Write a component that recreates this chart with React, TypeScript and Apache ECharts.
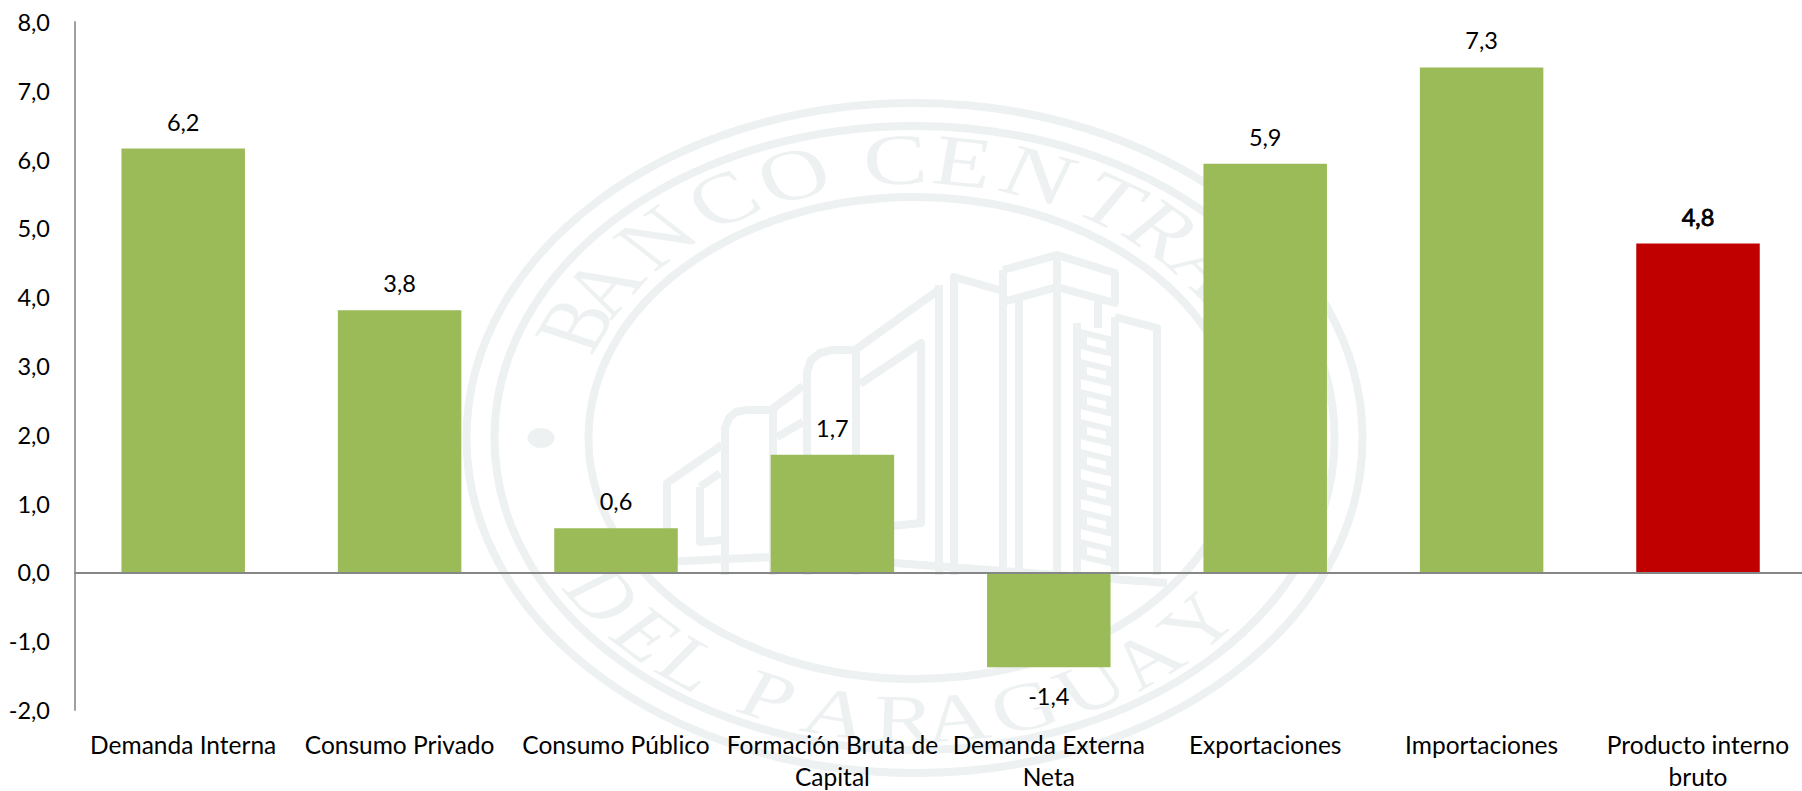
import React, { useEffect, useRef } from "react";
import * as echarts from "echarts";

const categories = [
  "Demanda Interna",
  "Consumo Privado",
  "Consumo Público",
  "Formación Bruta de\nCapital",
  "Demanda Externa\nNeta",
  "Exportaciones",
  "Importaciones",
  "Producto interno\nbruto",
];
const values = [6.16, 3.81, 0.64, 1.71, -1.38, 5.94, 7.34, 4.78];
const barColors = ["#9bbb59", "#9bbb59", "#9bbb59", "#9bbb59", "#9bbb59", "#9bbb59", "#9bbb59", "#c00000"];
const boldLabel = [false, false, false, false, false, false, false, true];

const FONT = "Lato";
const INK = "#edf1f2";
const comma = (v: number) => v.toFixed(1).replace(".", ",");

// seal watermark
const sealCenter = [914.5, 438];
const sealStretch = 1.335;
const rings = [
  [448, 335],
  [420, 312],
  [326, 241],
];
const topLetters: [string, number][] = [
  ["B", -66], ["A", -57], ["N", -44], ["C", -31], ["O", -19], ["C", -3],
  ["E", 7.5], ["N", 19.5], ["T", 32], ["R", 42], ["A", 52.5], ["L", 62],
];
const bottomLetters: [string, number][] = [
  ["D", -56], ["E", -45.5], ["L", -36.5], ["P", -23], ["A", -12], ["R", -1.6],
  ["A", 6.5], ["G", 17], ["U", 28], ["A", 38], ["Y", 49],
];
const buildingLines: number[][][] = [
  [[667, 562], [667, 483], [722, 445]],
  [[700, 487], [720, 473]],
  [[700, 487], [700, 542], [722, 540]],
  [[725, 575], [725, 428], [729, 418], [736, 412], [746, 410], [771, 410], [773, 412], [773, 575]],
  [[771, 410], [803, 386]],
  [[777, 437], [803, 422]],
  [[807, 575], [807, 372], [811, 360], [820, 353], [832, 350], [853, 350], [856, 353], [856, 575]],
  [[855, 350], [940, 289]],
  [[860, 384], [921, 343], [921, 523], [855, 530]],
  [[939, 285], [939, 575]],
  [[954, 575], [954, 277], [1003, 291]],
  [[1003, 270], [1057, 255], [1115, 273], [1115, 303], [1057, 287], [1003, 302], [1003, 270]],
  [[1003, 302], [1003, 575]],
  [[1019, 298], [1019, 575]],
  [[1057, 255], [1057, 575]],
  [[1098, 298], [1098, 328]],
  [[1115, 317], [1157, 328], [1157, 575]],
  [[1115, 317], [1115, 575]],
  [[1077, 323], [1077, 575]],
  [[667, 562], [725, 559], [773, 557]],
  [[880, 562], [1167, 583]],
];
const ladderRows = [0, 1, 2, 3, 4, 5, 6, 7];

function sealGraphics() {
  const els: any[] = [];
  rings.forEach(([rx, ry]) =>
    els.push({
      type: "ellipse",
      z: -1,
      silent: true,
      shape: { cx: sealCenter[0], cy: sealCenter[1], rx, ry },
      style: { fill: "none", stroke: INK, lineWidth: 8 },
    })
  );
  els.push({
    type: "ellipse",
    z: -1,
    silent: true,
    shape: { cx: 541, cy: 438, rx: 13.5, ry: 10 },
    style: { fill: INK },
  });
  buildingLines.forEach((pts) =>
    els.push({
      type: "polyline",
      z: -1,
      silent: true,
      shape: { points: pts },
      style: { fill: "none", stroke: INK, lineWidth: 8, lineJoin: "round" },
    })
  );
  ladderRows.forEach((i) => {
    const y = 333 + i * 30;
    els.push({
      type: "polygon",
      z: -1,
      silent: true,
      shape: { points: [[1084, y], [1109, y + 6], [1109, y + 20], [1084, y + 14]] },
      style: { fill: "none", stroke: INK, lineWidth: 6 },
    });
  });
  const letter = (ch: string, x: number, y: number, rotation: number, size: number) => ({
    type: "text",
    x,
    y,
    rotation,
    silent: true,
    style: {
      text: ch,
      fill: INK,
      font: `${size}px "Liberation Serif"`,
      textAlign: "center",
      textVerticalAlign: "middle",
    },
  });
  const R = 279;
  const children: any[] = [];
  topLetters.forEach(([ch, deg]) => {
    const t = (deg * Math.PI) / 180;
    children.push(letter(ch, R * Math.sin(t), -R * Math.cos(t), -t, 72));
  });
  bottomLetters.forEach(([ch, deg]) => {
    const t = (deg * Math.PI) / 180;
    children.push(letter(ch, (R + 2) * Math.sin(t), (R + 2) * Math.cos(t), t, 68));
  });
  els.push({
    type: "group",
    x: sealCenter[0],
    y: sealCenter[1],
    scaleX: sealStretch,
    scaleY: 1,
    z: -1,
    silent: true,
    children,
  });
  return els;
}

export default function App() {
  const ref = useRef<HTMLDivElement>(null);
  useEffect(() => {
    document.body.style.margin = "0";
    const chart = echarts.init(ref.current!, undefined, { renderer: "svg" });
    chart.setOption({
      animation: false,
      backgroundColor: "#ffffff",
      graphic: { elements: sealGraphics() },
      grid: { left: 75, top: 22, width: 1731.2, height: 688, containLabel: false, outerBoundsMode: "none" },
      xAxis: [
        {
          type: "category",
          data: categories,
          axisLine: { show: false, onZero: false },
          axisTick: { show: false },
          axisLabel: {
            interval: 0,
            margin: 18,
            color: "#000000",
            fontFamily: FONT,
            fontSize: 24.5,
            lineHeight: 32,
            verticalAlign: "top",
            hideOverlap: false,
          },
        },
        {
          type: "category",
          data: categories,
          position: "bottom",
          z: 3,
          axisLine: { show: true, onZero: true, onZeroAxisIndex: 0, lineStyle: { color: "#868686", width: 2 } },
          axisTick: { show: false },
          axisLabel: { show: false },
        },
      ],
      yAxis: {
        type: "value",
        min: -2,
        max: 8,
        interval: 1,
        splitLine: { show: false },
        axisTick: { show: false },
        axisLine: { show: true, onZero: false, lineStyle: { color: "#a0a0a0", width: 2 } },
        axisLabel: {
          margin: 25,
          color: "#000000",
          fontFamily: FONT,
          fontSize: 23.5,
          formatter: (v: number) => comma(v),
        },
      },
      series: [
        {
          type: "bar",
          xAxisIndex: 0,
          yAxisIndex: 0,
          barWidth: 123.5,
          data: values.map((v, i) => ({
            value: v,
            itemStyle: { color: barColors[i] },
            label: {
              show: true,
              position: v < 0 ? "bottom" : "top",
              distance: v < 0 ? 17 : 15,
              formatter: comma(v),
              color: "#000000",
              fontFamily: FONT,
              fontSize: 23.5,
              fontWeight: "normal",
              textBorderColor: boldLabel[i] ? "#000000" : "transparent",
              textBorderWidth: boldLabel[i] ? 0.8 : 0,
            },
          })),
        },
      ],
    });
    return () => chart.dispose();
  }, []);
  return (
    <div
      ref={ref}
      style={{ position: "absolute", left: 0, top: 0, width: 1802, height: 791, overflow: "hidden" }}
    />
  );
}
